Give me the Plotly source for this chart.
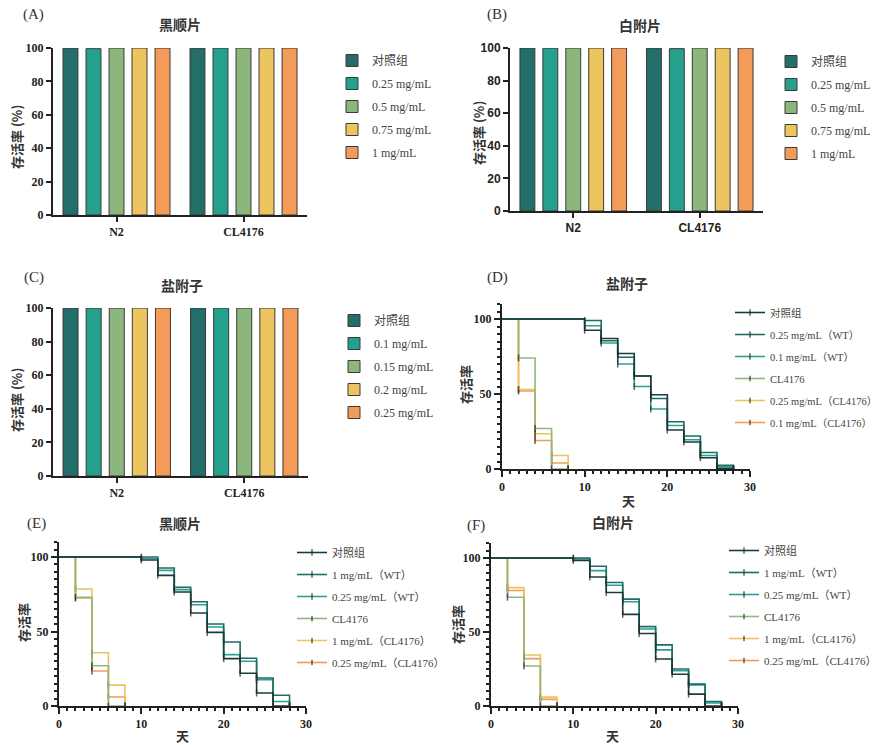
import plotly.graph_objects as go

W, H = 877, 745

# ---------------- data ----------------
groups = ["N2", "CL4176"]
bar_colors = ["#246e69", "#25a08d", "#8db67c", "#ecc560", "#f39b58"]

A_names = ["对照组", "0.25 mg/mL", "0.5 mg/mL", "0.75 mg/mL", "1 mg/mL"]
A_vals = [[100, 100], [99.6, 100], [100, 100], [100, 100], [100, 100]]

B_names = ["对照组", "0.25 mg/mL", "0.5 mg/mL", "0.75 mg/mL", "1 mg/mL"]
B_vals = [[100, 100], [100, 99.6], [100, 100], [100, 100], [100, 100]]

C_names = ["对照组", "0.1 mg/mL", "0.15 mg/mL", "0.2 mg/mL", "0.25 mg/mL"]
C_vals = [[100, 100], [100, 100], [100, 100], [100, 100], [100, 100]]

line_colors = ["#1d3b3e", "#1f6b66", "#2aa290", "#8fb87c", "#f0c25c", "#f39a55"]
days_wt = [0, 10, 12, 14, 16, 18, 20, 22, 24, 26, 28]
days_cl = [0, 2, 4, 6, 8]

D_names = ["对照组", "0.25 mg/mL（WT）", "0.1 mg/mL（WT）", "CL4176",
           "0.25 mg/mL（CL4176）", "0.1 mg/mL（CL4176）"]
D_ctrl = [100, 92.5, 87, 77, 62, 49.5, 26, 18, 7.5, 0.5, 0]
D_wt_a = [100, 99, 85.5, 74.5, 62, 47, 31.5, 22, 11, 2.5, 0]
D_wt_b = [100, 95.5, 84, 70, 55, 40, 29, 19.5, 9, 1.5, 0]
D_cl = [100, 74, 27, 0, 0]
D_cl_a = [100, 53, 23.5, 9, 0]
D_cl_b = [100, 52, 19, 4, 0]

E_names = ["对照组", "1 mg/mL（WT）", "0.25 mg/mL（WT）", "CL4176",
           "1 mg/mL（CL4176）", "0.25 mg/mL（CL4176）"]
E_ctrl = [100, 98, 87.7, 76.5, 62.4, 49.4, 31.8, 22, 8.7, 0, 0]
E_wt_a = [100, 100, 92.6, 79.6, 70, 55, 43, 32, 18.8, 7.2, 0]
E_wt_b = [100, 99, 91, 78, 68, 53, 34.5, 30, 17.7, 3, 0]
E_cl = [100, 73, 27, 0, 0]
E_cl_a = [100, 78.5, 35.7, 14, 0]
E_cl_b = [100, 72.5, 23.5, 6, 0]

F_names = ["对照组", "1 mg/mL（WT）", "0.25 mg/mL（WT）", "CL4176",
           "1 mg/mL（CL4176）", "0.25 mg/mL（CL4176）"]
F_ctrl = [100, 98.4, 87.2, 76.7, 61.9, 49, 31.8, 21.5, 8, 0, 0]
F_wt_a = [100, 100, 94.4, 83.4, 72.2, 53.6, 41.3, 25, 14.8, 3, 0]
F_wt_b = [100, 99.5, 91.5, 81.6, 70.4, 52, 37.9, 23.8, 14.3, 2, 0]
F_cl = [100, 73.5, 27, 0, 0]
F_cl_a = [100, 80, 34.5, 6, 0]
F_cl_b = [100, 78, 32, 4.5, 0]

# ---------------- helpers ----------------
def fx(px):
    return px / W

def fy(py):
    return 1 - py / H

CJK = "Noto Sans CJK SC"
SERIF = "Liberation Serif"
AX = "#222"

fig = go.Figure()

# ---------------- bar panels ----------------
bar_panels = [
    ("x", "y", "legend", A_names, A_vals),
    ("x2", "y2", "legend2", B_names, B_vals),
    ("x3", "y3", "legend3", C_names, C_vals),
]
for xa, ya, lg, names, vals in bar_panels:
    for i, (nm, v) in enumerate(zip(names, vals)):
        fig.add_trace(go.Bar(
            x=groups, y=v, name=nm, xaxis=xa, yaxis=ya, legend=lg,
            legendgroup=lg + str(i),
            marker=dict(color=bar_colors[i], line=dict(color="#3a3a3a", width=1)),
        ))

# ---------------- survival panels ----------------
surv_panels = [
    ("x4", "y4", "legend4", D_names, [D_ctrl, D_wt_a, D_wt_b, D_cl, D_cl_a, D_cl_b]),
    ("x5", "y5", "legend5", E_names, [E_ctrl, E_wt_a, E_wt_b, E_cl, E_cl_a, E_cl_b]),
    ("x6", "y6", "legend6", F_names, [F_ctrl, F_wt_a, F_wt_b, F_cl, F_cl_a, F_cl_b]),
]
for xa, ya, lg, names, series in surv_panels:
    # draw in reverse so the first series sits on top (legend order restored below)
    for i in reversed(range(len(names))):
        nm, s = names[i], series[i]
        days = days_wt if i < 3 else days_cl
        sizes = [0] + [5] * (len(days) - 1)
        fig.add_trace(go.Scatter(
            x=days, y=s, name=nm, xaxis=xa, yaxis=ya, legend=lg,
            legendgroup=lg + str(i), legendrank=i,
            mode="lines+markers", line=dict(shape="hv", color=line_colors[i], width=1.6),
            marker=dict(symbol="line-ns", size=sizes, line=dict(color="#222", width=1.5)),
        ))

# ---------------- axes ----------------
def bar_axes(n, x0, x1, ytop, ybot, sans=False):
    fam = "Liberation Sans" if sans else SERIF
    tf = dict(family=fam, size=12, color=AX, weight="bold")
    xk = "xaxis" if n == 1 else f"xaxis{n}"
    yk = "yaxis" if n == 1 else f"yaxis{n}"
    fig.layout[xk] = dict(domain=[fx(x0), fx(x1)], anchor="y" if n == 1 else f"y{n}",
                          showline=True, linecolor=AX, linewidth=2, ticks="outside",
                          ticklen=5, tickwidth=2, tickcolor=AX, tickfont=tf,
                          showgrid=False, zeroline=False, fixedrange=True)
    fig.layout[yk] = dict(domain=[fy(ybot), fy(ytop)], anchor="x" if n == 1 else f"x{n}",
                          range=[0, 100], tickvals=[0, 20, 40, 60, 80, 100],
                          showline=True, linecolor=AX, linewidth=2, ticks="outside",
                          ticklen=5, tickwidth=2, tickcolor=AX, tickfont=tf,
                          showgrid=False, zeroline=False)

bar_axes(1, 53, 307, 48, 215)
bar_axes(2, 510, 763, 48, 211, sans=True)
bar_axes(3, 53, 308, 308, 476)

def surv_axes(n, x0, x1, y0px, y100px):
    unit = (y0px - y100px) / 100.0
    ytop = y0px - unit * 110
    tf = dict(family=SERIF, size=12, color=AX, weight="bold")
    fig.layout[f"xaxis{n}"] = dict(domain=[fx(x0), fx(x1)], anchor=f"y{n}", range=[0, 30],
                                   tickvals=[0, 10, 20, 30], showline=True, linecolor=AX,
                                   linewidth=2, ticks="outside", ticklen=6, tickwidth=2,
                                   tickcolor=AX, tickfont=tf, showgrid=False, zeroline=False,
                                   minor=dict(dtick=1, ticks="outside", ticklen=3,
                                              tickwidth=1.5, tickcolor=AX, showgrid=False))
    fig.layout[f"yaxis{n}"] = dict(domain=[fy(y0px), fy(ytop)], anchor=f"x{n}", range=[0, 110],
                                   tickvals=[0, 50, 100], showline=True, linecolor=AX,
                                   linewidth=2, ticks="outside", ticklen=6, tickwidth=2,
                                   tickcolor=AX, tickfont=tf, showgrid=False, zeroline=False,
                                   minor=dict(dtick=5, ticks="outside", ticklen=3,
                                              tickwidth=1.5, tickcolor=AX, showgrid=False))

surv_axes(4, 502, 750, 469, 319)
surv_axes(5, 59, 306, 706, 557)
surv_axes(6, 491, 738, 706, 558)

# ---------------- legends ----------------
def legend(px, py, gap, size=12):
    return dict(x=fx(px), y=fy(py), xanchor="left", yanchor="top", bgcolor="rgba(0,0,0,0)",
                font=dict(family=SERIF + ", " + CJK, size=size, color="#444"),
                tracegroupgap=gap, itemwidth=30, borderwidth=0, traceorder="grouped")

fig.update_layout(
    legend=legend(332, 46, 4),
    legend2=legend(771, 47, 4),
    legend3=legend(334, 306, 4),
    legend4=legend(730, 298, 3, size=10.5),
    legend5=legend(292, 538, 3, size=11),
    legend6=legend(724, 536, 3, size=11),
)

# ---------------- text ----------------
ann = []
def txt(s, px, py, size=13, family=CJK, angle=0, color="#333", weight="bold"):
    ann.append(dict(text=s, x=fx(px), y=fy(py), xref="paper", yref="paper",
                    showarrow=False, textangle=angle, xanchor="center", yanchor="middle",
                    font=dict(family=family, size=size, color=color, weight=weight)))

for lab, px, py in [("(A)", 33, 15), ("(B)", 497, 15), ("(C)", 34, 278),
                    ("(D)", 497, 277), ("(E)", 36, 523), ("(F)", 476, 525)]:
    txt(lab, px, py, size=15, family=SERIF, color="#333", weight="normal")

for t, px, py in [("黑顺片", 180, 24), ("白附片", 640, 25), ("盐附子", 182, 285),
                  ("盐附子", 627, 283), ("黑顺片", 180, 523), ("白附片", 613, 522)]:
    txt(t, px, py, size=14)

for t, px, py in [("存活率 (%)", 16, 137), ("存活率 (%)", 478, 133), ("存活率 (%)", 16, 400),
                  ("存活率", 465, 385), ("存活率", 23, 623), ("存活率", 457, 625)]:
    txt(t, px, py, size=13, angle=-90)

for px, py in [(628, 500), (182, 735), (612, 735)]:
    txt("天", px, py, size=13)

fig.update_layout(
    width=W, height=H, margin=dict(l=0, r=0, t=0, b=0, autoexpand=False),
    paper_bgcolor="white", plot_bgcolor="white",
    barmode="group", bargap=0.094, bargroupgap=0.35,
    annotations=ann,
)

fig.write_html("out.html")
